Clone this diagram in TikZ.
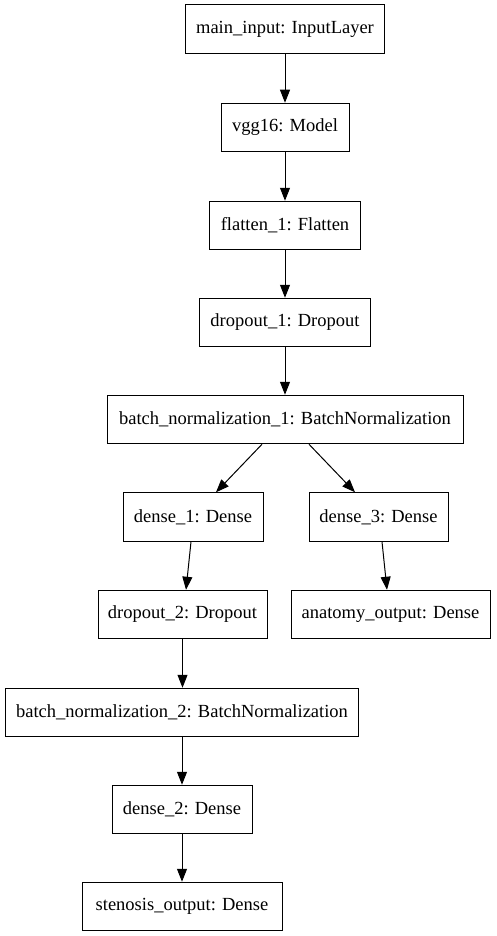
\documentclass[tikz,border=0pt]{standalone}
\usepackage{fontspec}
\setmainfont{Liberation Serif}
\usetikzlibrary{arrows.meta}
\begin{document}
\begin{tikzpicture}[x=1pt,y=-1pt,
  layer/.style={draw, line width=1pt, rectangle, minimum height=48.5pt, inner sep=0pt, font=\fontsize{18.5}{20}\selectfont},
  conn/.style={line width=1pt, -{Triangle[length=13pt,width=10pt]}}]
\useasboundingbox (0,0) rectangle (496,936);
\node[layer, minimum width=199pt] (mi) at (285,29) {main\_input: InputLayer};
\node[layer, minimum width=128pt] (vgg) at (285,127.5) {vgg16: Model};
\node[layer, minimum width=151pt] (fl) at (285,225.5) {flatten\_1: Flatten};
\node[layer, minimum width=171pt] (do1) at (285,322.5) {dropout\_1: Dropout};
\node[layer, minimum width=356pt] (bn1) at (285,419.5) {batch\_normalization\_1: BatchNormalization};
\node[layer, minimum width=140pt] (d1) at (193,517) {dense\_1: Dense};
\node[layer, minimum width=139pt] (d3) at (378.5,517) {dense\_3: Dense};
\node[layer, minimum width=169pt] (do2) at (182.5,614.5) {dropout\_2: Dropout};
\node[layer, minimum width=199pt] (an) at (390.5,614.5) {anatomy\_output: Dense};
\node[layer, minimum width=353pt] (bn2) at (182,712.5) {batch\_normalization\_2: BatchNormalization};
\node[layer, minimum width=140pt] (d2) at (182,809.5) {dense\_2: Dense};
\node[layer, minimum width=200pt] (st) at (182,906.5) {stenosis\_output: Dense};
\draw[conn] (mi.south) -- (vgg.north);
\draw[conn] (vgg.south) -- (fl.north);
\draw[conn] (fl.south) -- (do1.north);
\draw[conn] (do1.south) -- (bn1.north);
\draw[conn] ([xshift=-23pt]bn1.south) -- ([xshift=23pt]d1.north);
\draw[conn] ([xshift=24pt]bn1.south) -- ([xshift=-23.5pt]d3.north);
\draw[conn] ([xshift=-2pt]d1.south) -- ([xshift=3.5pt]do2.north);
\draw[conn] ([xshift=3.5pt]d3.south) -- ([xshift=-3.5pt]an.north);
\draw[conn] (do2.south) -- (do2.south |- bn2.north);
\draw[conn] (bn2.south) -- (d2.north);
\draw[conn] (d2.south) -- (st.north);
\end{tikzpicture}
\end{document}
